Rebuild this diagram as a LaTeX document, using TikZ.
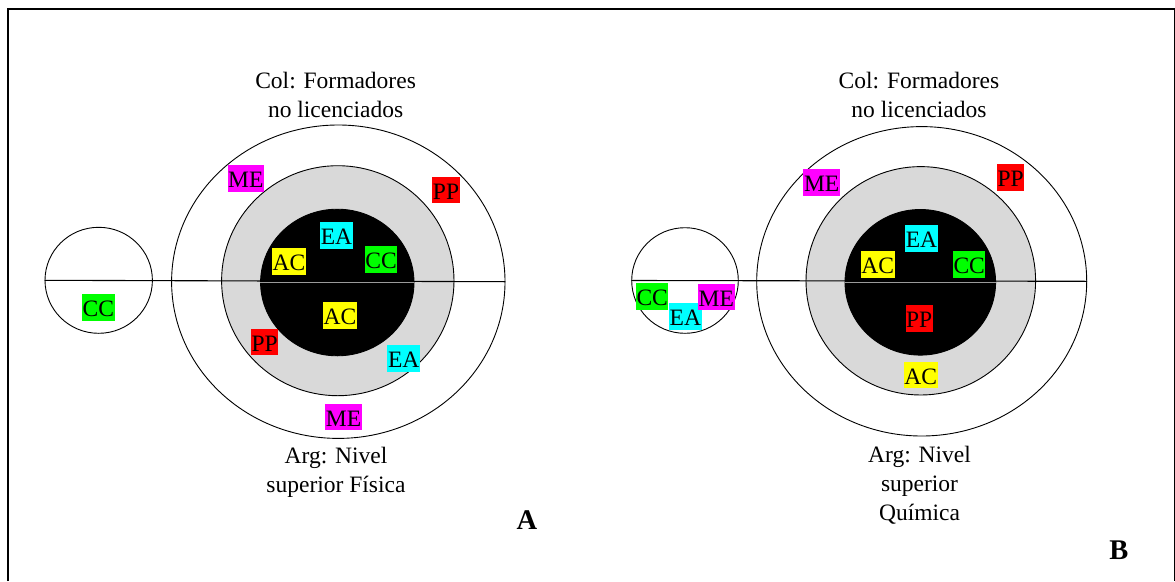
\documentclass[tikz,border=0pt]{standalone}
\usepackage{fontspec}
\setmainfont{Liberation Serif}
\usetikzlibrary{shapes.geometric}

\definecolor{ringgray}{HTML}{D9D9D9}
\definecolor{tagme}{HTML}{FF00FF}
\definecolor{tagpp}{HTML}{FF0000}
\definecolor{tagea}{HTML}{00FFFF}
\definecolor{tagac}{HTML}{FFFF00}
\definecolor{tagcc}{HTML}{00FF00}
\definecolor{splitgray}{HTML}{9A9A9A}

\tikzset{
  ring/.style={ellipse, draw, line width=0.9pt, inner sep=0pt},
  tag/.style={inner xsep=0.6pt, inner ysep=0pt, text height=22.4pt, text depth=4.3pt,
              font=\fontsize{23.5}{28}\selectfont},
  ME/.style={tag, fill=tagme},
  PP/.style={tag, fill=tagpp},
  EA/.style={tag, fill=tagea},
  AC/.style={tag, fill=tagac},
  CC/.style={tag, fill=tagcc},
  caption/.style={align=center, inner sep=0pt, anchor=north,
                  font=\fontsize{23.5}{29}\selectfont},
  panel/.style={inner sep=0pt, anchor=base, font=\bfseries\fontsize{28.5}{34}\selectfont},
  split/.style={line width=1.1pt},
}

\begin{document}
\begin{tikzpicture}[x=1pt, y=-1pt]
\useasboundingbox (0,0) rectangle (1175,581);
\fill[white] (0,0) rectangle (1175,581);

% frame
\draw[line width=2.6pt] (7.8,581) -- (7.8,8.8) -- (1175,8.8);
\draw[line width=2.6pt] (1175,8.8) -- (1175,581);

% ---------------- panel A ----------------
\node[ring, fill=white, minimum width=333.4pt, minimum height=313.4pt] (oA) at (338.3,281.7) {};
\node[ring, fill=ringgray, minimum width=232.4pt, minimum height=230pt] (gA) at (337.8,280.7) {};
\node[ring, fill=black, minimum width=153.4pt, minimum height=146.6pt] (bA) at (337.3,282.5) {};
\node[ring, minimum width=107.4pt, minimum height=106pt] (sA) at (98.7,280.3) {};
\draw[split] (sA.west) -- (oA.east);
\draw[splitgray, line width=1.2pt] (bA.west) -- (bA.east);

\node[caption] (colA) at (335.6,72.2) {Col: Formadores\\no licenciados};
\node[caption] (argA) at (336,447.2) {Arg: Nivel\\superior Física};
\node[panel] (pA) at (527,529.3) {A};

\node[ME] (meA1) at (245.8,178.3) {ME};
\node[PP] (ppA1) at (446,190) {PP};
\node[EA] (eaA1) at (336.5,235.8) {EA};
\node[AC] (acA1) at (289,261.3) {AC};
\node[CC] (ccA1) at (381,259.5) {CC};
\node[AC] (acA2) at (340,315.3) {AC};
\node[PP] (ppA2) at (264.7,342) {PP};
\node[EA] (eaA2) at (403.7,358.7) {EA};
\node[ME] (meA2) at (343.5,417) {ME};
\node[CC] (ccA0) at (98.3,307.5) {CC};

% ---------------- panel B ----------------
\node[ring, fill=white, minimum width=330pt, minimum height=309.4pt] (oB) at (921.7,281.3) {};
\node[ring, fill=ringgray, minimum width=229.6pt, minimum height=228.4pt] (gB) at (920.8,280.8) {};
\node[ring, fill=black, minimum width=150.6pt, minimum height=145.6pt] (bB) at (920.3,282.3) {};
\node[ring, minimum width=106.6pt, minimum height=105.6pt] (sB) at (685,280.5) {};
\draw[split] (sB.west) -- (oB.east);
\draw[splitgray, line width=1.2pt] (bB.west) -- (bB.east);

\node[caption] (colB) at (919,72.2) {Col: Formadores\\no licenciados};
\node[caption] (argB) at (919.5,445.7) {Arg: Nivel\\superior\\Química};
\node[panel] (pB) at (1118.8,559.3) {B};

\node[ME] (meB1) at (821.7,182.7) {ME};
\node[PP] (ppB1) at (1010.7,177.5) {PP};
\node[EA] (eaB1) at (921.5,238.3) {EA};
\node[AC] (acB1) at (877.7,264.5) {AC};
\node[CC] (ccB1) at (969.2,264.5) {CC};
\node[PP] (ppB2) at (919.2,318.8) {PP};
\node[AC] (acB2) at (920.8,375) {AC};
\node[CC] (ccB0) at (652.2,296.3) {CC};
\node[EA] (eaB0) at (685.4,316.8) {EA};
\node[ME] (meB0) at (716.3,297) {ME};
\end{tikzpicture}
\end{document}
